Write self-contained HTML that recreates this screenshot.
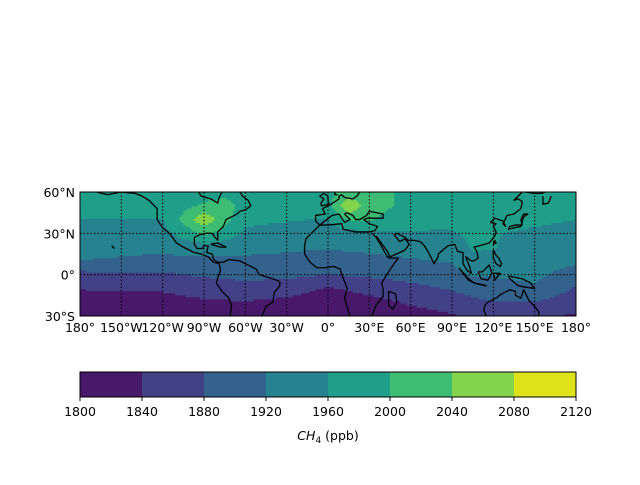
<!DOCTYPE html>
<html><head><meta charset="utf-8"><style>
body{margin:0;background:#fff;}
svg text{font-family:"DejaVu Sans","Liberation Sans",sans-serif;font-size:12.5px;fill:#000;}
</style></head><body>
<svg id="fig" width="640" height="480" viewBox="0 0 640 480" xmlns="http://www.w3.org/2000/svg">
<rect width="640" height="480" fill="#fff"/>
<g id="field"></g>
<g id="coast"></g>
<g id="grid"></g>
<rect x="80" y="192" width="496" height="124" fill="none" stroke="#000" stroke-width="1"/>
<g id="ticks"></g>
<g id="cbar"></g>
<text x="328" y="440" text-anchor="middle"><tspan font-style="italic">CH</tspan><tspan font-size="9" dy="3">4</tspan><tspan dy="-3"> (ppb)</tspan></text>
</svg>
<script>
const latNodes=[60,50,40,30,20,10,0,-10,-20,-30];
const lonNodes=[-180,-165,-150,-135,-120,-105,-90,-75,-60,-45,-30,-15,0,15,30,45,60,75,90,105,120,135,150,165,180];
const ch4Values=[
[1988,1988,1988,1989,1990,1988,1985,1990,1985,1985,1985,1985,1990,2010,2012,2003,1985,1985,1985,1985,1985,1985,1985,1988,1990],
[1973,1973,1973,1974,1975,1990,2005,2012,1990,1984,1978,1976,1985,2075,2020,2004,1978,1978,1978,1978,1978,1978,1978,1976,1975],
[1959,1959,1959,1960,1960,2010,2070,2015,1970,1966,1963,1960,1960,2005,2005,1985,1970,1970,1970,1975,1975,1970,1966,1963,1960],
[1946,1945,1945,1945,1945,1975,2010,1985,1952,1948,1945,1943,1941,1945,1950,1954,1958,1957,1957,1968,1962,1958,1955,1952,1949],
[1933,1932,1932,1931,1930,1938,1940,1936,1932,1930,1927,1925,1923,1927,1930,1933,1937,1938,1940,1964,1962,1952,1946,1941,1937],
[1920,1917,1915,1912,1909,1910,1912,1912,1912,1910,1909,1905,1902,1905,1908,1912,1916,1920,1923,1952,1950,1942,1937,1931,1926],
[1868,1870,1871,1872,1874,1880,1885,1888,1891,1890,1890,1885,1880,1884,1887,1890,1893,1898,1904,1925,1924,1926,1928,1916,1905],
[1842,1844,1845,1846,1846,1852,1859,1862,1866,1863,1860,1848,1836,1845,1853,1862,1870,1877,1884,1895,1904,1910,1916,1896,1876],
[1822,1823,1824,1824,1824,1830,1834,1836,1838,1834,1830,1822,1815,1822,1828,1836,1845,1852,1860,1870,1880,1880,1880,1868,1856],
[1802,1803,1804,1804,1804,1810,1814,1816,1818,1814,1810,1805,1801,1802,1808,1816,1824,1830,1836,1848,1860,1852,1845,1840,1836]];
const levels=[1800,1840,1880,1920,1960,2000,2040,2080,2120];
const colors=["#48186a","#424086","#33638d","#26828e","#1f9e89","#3fbc73","#84d44b","#dde318"];
const lonTicks=[-180,-150,-120,-90,-60,-30,0,30,60,90,120,150,180];
const lonTickLabels=["180°","150°W","120°W","90°W","60°W","30°W","0°","30°E","60°E","90°E","120°E","150°E","180°"];
const latTicks=[60,30,0,-30];
const latTickLabels=["60°N","30°N","0°","30°S"];
const NS="http://www.w3.org/2000/svg";
const X0=80,X1=576,Y0=192,Y1=316;
const xs=lon=>X0+(lon+180)/360*(X1-X0);
const ys=lat=>Y0+(60-lat)/90*(Y1-Y0);
function mk(tag,at,parent){const e=document.createElementNS(NS,tag);for(const k in at)e.setAttribute(k,at[k]);parent.appendChild(e);return e;}
function binFor(v){for(let i=0;i<levels.length-1;i++){if(v<levels[i+1])return i;}return colors.length-1;}
function idx(arr,v){const n=arr.length;let f=(v-arr[0])/(arr[1]-arr[0]);if(f<0)f=0;if(f>n-1)f=n-1;return f;}
function sample(lat,lon){
  const fi=idx(latNodes,lat),fj=idx(lonNodes,lon);
  const i0=Math.min(Math.floor(fi),latNodes.length-2),j0=Math.min(Math.floor(fj),lonNodes.length-2);
  const a=fi-i0,b=fj-j0;
  return (1-a)*((1-b)*ch4Values[i0][j0]+b*ch4Values[i0][j0+1])+a*((1-b)*ch4Values[i0+1][j0]+b*ch4Values[i0+1][j0+1]);}
const field=document.getElementById('field');
const STEP=1.5;
for(let lat=60;lat>-30+1e-6;lat-=STEP){
  let runStart=-180,runBin=null;
  for(let lon=-180;lon<=180+1e-6;lon+=STEP){
    const bin=lon<180-1e-6?binFor(sample(lat-STEP/2,lon+STEP/2)):-1;
    if(runBin===null){runBin=bin;runStart=lon;continue;}
    if(bin!==runBin){
      const r=mk('rect',{x:xs(runStart),y:ys(lat),width:xs(lon)-xs(runStart)+0.5,height:ys(lat-STEP)-ys(lat)+0.5,fill:colors[runBin]},field);
      
      
      runBin=bin;runStart=lon;
    }
  }
}
const coasts=[
[[-168,60],[-160,58],[-150,60],[-140,59],[-135,57],[-130,54],[-124,48],[-124,40],[-120,34],[-115,30],[-110,23],[-105,20],[-97,16],[-92,15],[-87,13],[-83,9],[-79,8],[-78,3],[-80,-2],[-81,-6],[-77,-12],[-72,-17],[-70,-22],[-71,-30]],
[[-48,-30],[-45,-23],[-40,-20],[-39,-13],[-35,-8],[-35,-5],[-40,-3],[-50,0],[-52,4],[-60,8],[-64,10],[-72,11],[-76,9],[-80,9],[-83,11],[-84,15],[-88,16],[-87,21],[-90,21],[-91,19],[-95,19],[-97,22],[-97,27],[-93,29],[-89,30],[-84,30],[-82,27],[-80,25],[-80,31],[-76,35],[-74,40],[-70,42],[-66,44],[-64,46],[-60,47],[-56,50],[-58,54],[-62,57],[-64,60]],
[[-94,60],[-92,57],[-85,55],[-80,52],[-79,56],[-77,60]],
[[-85,22],[-80,23],[-74,20],[-78,20],[-85,22]],
[[-6,36],[-9,39],[-9,43],[-2,44],[-4,48],[2,51],[5,53],[8,55],[8,57],[10,58],[12,56],[18,55],[21,57],[23,60]],
[[5,60],[5,58],[7,58]],
[[-5,50],[-5,52],[-3,55],[-6,57],[-3,59],[0,57],[0,53],[1,51],[-5,50]],
[[-6,36],[-10,32],[-16,26],[-17,21],[-17,15],[-13,9],[-8,5],[-2,5],[4,6],[9,4],[10,0],[12,-5],[14,-10],[12,-17],[15,-27],[16,-30]],
[[-6,36],[0,36],[10,37],[11,33],[20,31],[30,31],[34,32],[36,35],[30,37],[26,40],[29,41],[40,41],[40,44],[35,45],[30,46],[28,43],[23,40],[20,40],[18,43],[14,45],[12,44],[16,40],[12,38],[8,44],[3,43],[-6,36]],
[[32,30],[35,27],[38,22],[43,13],[45,12],[51,12],[48,8],[42,-1],[39,-6],[40,-11],[40,-16],[35,-22],[33,-27],[32,-30]],
[[44,-12],[49,-14],[50,-20],[47,-25],[44,-22],[44,-12]],
[[35,28],[43,17],[45,13],[52,16],[56,18],[59,22],[56,26],[52,24],[48,29],[50,30],[56,27],[58,25],[62,25],[67,24],[70,21],[73,16],[77,8],[80,13],[80,15],[87,21],[92,22],[94,17],[98,16],[98,8],[101,3],[104,1],[103,5],[100,13],[104,10],[106,10],[109,12],[108,17],[106,20],[110,21],[117,23],[121,28],[122,31],[120,35],[122,37],[118,38],[121,41],[127,39],[129,35],[127,37],[130,43],[135,44],[140,48],[141,53],[138,55],[135,54],[141,60]],
[[141,36],[140,40],[142,44],[145,44],[142,42],[140,35],[135,34],[131,33],[132,35],[136,36],[141,36]],
[[120,22],[121,25],[122,23],[120,22]],
[[95,5],[102,-3],[106,-6],[102,-4],[98,1],[95,5]],
[[106,-6],[114,-8],[115,-8],[106,-6]],
[[109,2],[111,-3],[116,-4],[119,1],[117,7],[112,2],[109,2]],
[[120,1],[125,1],[121,-4],[121,-2],[120,1]],
[[131,-1],[141,-3],[147,-6],[150,-10],[143,-9],[138,-8],[132,-3],[131,-1]],
[[114,-22],[116,-20],[122,-17],[126,-14],[130,-12],[132,-11],[136,-12],[136,-15],[140,-17],[142,-11],[144,-15],[146,-19],[150,-23],[153,-27],[153,-30]],
[[114,-22],[113,-26],[115,-30]],
[[120,18],[122,14],[124,12],[126,8],[125,6],[122,8],[120,12],[120,18]],
[[-157,21],[-155,19]],
[[143,60],[150,59],[155,59],[160,61]],[[162,57],[160,52],[156,51],[156,57]],
[[-170,60],[-165,62]]
];
const coast=document.getElementById('coast');
const clip=mk('clipPath',{id:'mapclip'},mk('defs',{},document.getElementById('fig')));
mk('rect',{x:X0,y:Y0,width:X1-X0,height:Y1-Y0},clip);
coast.setAttribute('clip-path','url(#mapclip)');
coasts.forEach(c=>{
  const p=mk('polyline',{points:c.map(q=>xs(q[0])+','+ys(q[1])).join(' '),fill:'none',stroke:'#000','stroke-width':1.3,'stroke-linejoin':'round'},coast);
  
  
});
const grid=document.getElementById('grid');
lonTicks.slice(1,-1).forEach(l=>{const g=mk('line',{x1:xs(l),x2:xs(l),y1:Y0,y2:Y1,stroke:'#000','stroke-width':1,'stroke-dasharray':'1.5,2'},grid);
});
latTicks.slice(1,-1).forEach(l=>{const g=mk('line',{x1:X0,x2:X1,y1:ys(l),y2:ys(l),stroke:'#000','stroke-width':1,'stroke-dasharray':'1.5,2'},grid);
});
const ticks=document.getElementById('ticks');
lonTicks.forEach((l,i)=>{const t=mk('text',{x:xs(l),y:332,'text-anchor':'middle'},ticks);t.textContent=lonTickLabels[i];
});
latTicks.forEach((l,i)=>{const t=mk('text',{x:75,y:ys(l)+5,'text-anchor':'end'},ticks);t.textContent=latTickLabels[i];
});
const cb=document.getElementById('cbar');
const CX0=80,CX1=576,CY0=372,CY1=397;
const cx=v=>CX0+(v-levels[0])/(levels[levels.length-1]-levels[0])*(CX1-CX0);
colors.forEach((c,i)=>{const r=mk('rect',{x:cx(levels[i]),y:CY0,width:cx(levels[i+1])-cx(levels[i])+0.5,height:CY1-CY0,fill:c},cb);
});
mk('rect',{x:CX0,y:CY0,width:CX1-CX0,height:CY1-CY0,fill:'none',stroke:'#000','stroke-width':1},cb);
levels.forEach(v=>{mk('line',{x1:cx(v),x2:cx(v),y1:CY1,y2:CY1+4,stroke:'#000'},cb);
const t=mk('text',{x:cx(v),y:CY1+19,'text-anchor':'middle'},cb);t.textContent=v;
});
</script>
</body></html>
